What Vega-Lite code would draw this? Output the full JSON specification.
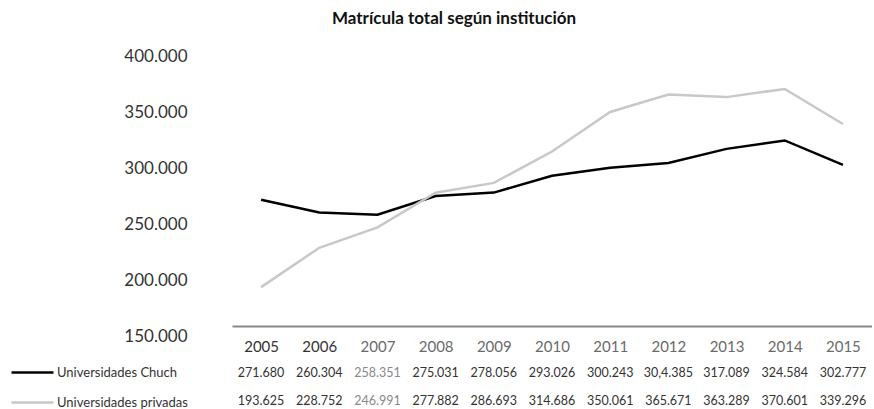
{
  "$schema": "https://vega.github.io/schema/vega-lite/v6.json",
  "padding": {"left": 10, "top": 10, "right": 0, "bottom": 0},
  "config": {
    "view": {"stroke": null},
    "font": "Lato",
    "locale": {"number": {"decimal": ",", "thousands": ".", "grouping": [3], "currency": ["$", ""]}}
  },
  "title": {"text": "Matrícula total según institución", "fontSize": 17, "fontWeight": "bold", "color": "#111", "anchor": "middle", "dx": 13, "offset": 19},
  "datasets": {
    "matricula": [
      {"anio": 2005, "serie": "Universidades Chuch", "matricula": 271680, "texto": "271.680"},
      {"anio": 2006, "serie": "Universidades Chuch", "matricula": 260304, "texto": "260.304"},
      {"anio": 2007, "serie": "Universidades Chuch", "matricula": 258351, "texto": "258.351"},
      {"anio": 2008, "serie": "Universidades Chuch", "matricula": 275031, "texto": "275.031"},
      {"anio": 2009, "serie": "Universidades Chuch", "matricula": 278056, "texto": "278.056"},
      {"anio": 2010, "serie": "Universidades Chuch", "matricula": 293026, "texto": "293.026"},
      {"anio": 2011, "serie": "Universidades Chuch", "matricula": 300243, "texto": "300.243"},
      {"anio": 2012, "serie": "Universidades Chuch", "matricula": 304385, "texto": "30,4.385"},
      {"anio": 2013, "serie": "Universidades Chuch", "matricula": 317089, "texto": "317.089"},
      {"anio": 2014, "serie": "Universidades Chuch", "matricula": 324584, "texto": "324.584"},
      {"anio": 2015, "serie": "Universidades Chuch", "matricula": 302777, "texto": "302.777"},
      {"anio": 2005, "serie": "Universidades privadas", "matricula": 193625, "texto": "193.625"},
      {"anio": 2006, "serie": "Universidades privadas", "matricula": 228752, "texto": "228.752"},
      {"anio": 2007, "serie": "Universidades privadas", "matricula": 246991, "texto": "246.991"},
      {"anio": 2008, "serie": "Universidades privadas", "matricula": 277882, "texto": "277.882"},
      {"anio": 2009, "serie": "Universidades privadas", "matricula": 286693, "texto": "286.693"},
      {"anio": 2010, "serie": "Universidades privadas", "matricula": 314686, "texto": "314.686"},
      {"anio": 2011, "serie": "Universidades privadas", "matricula": 350061, "texto": "350.061"},
      {"anio": 2012, "serie": "Universidades privadas", "matricula": 365671, "texto": "365.671"},
      {"anio": 2013, "serie": "Universidades privadas", "matricula": 363289, "texto": "363.289"},
      {"anio": 2014, "serie": "Universidades privadas", "matricula": 370601, "texto": "370.601"},
      {"anio": 2015, "serie": "Universidades privadas", "matricula": 339296, "texto": "339.296"}
    ]
  },
  "bounds": "flush",
  "spacing": 23,
  "vconcat": [
    {
      "width": 640,
      "height": 280,
      "data": {"name": "matricula"},
      "mark": {"type": "line", "strokeWidth": 2.5},
      "encoding": {
        "x": {
          "field": "anio", "type": "ordinal",
          "scale": {"type": "point", "padding": 0.5},
          "axis": {
            "title": null, "labelAngle": 0, "offset": -10, "ticks": false,
            "domainColor": "#888", "domainWidth": 2, "labelPadding": 13,
            "labelFontSize": 15,
            "labelColor": {"condition": {"test": "datum.value <= 2006", "value": "#333"}, "value": "#6a6a6a"}
          }
        },
        "y": {
          "field": "matricula", "type": "quantitative",
          "scale": {"domain": [150000, 400000]},
          "axis": {
            "title": null, "values": [150000, 200000, 250000, 300000, 350000, 400000],
            "format": ",d", "domain": false, "ticks": false, "grid": false,
            "labelPadding": 45, "labelFontSize": 17, "labelColor": "#333"
          }
        },
        "color": {
          "field": "serie", "type": "nominal",
          "scale": {"domain": ["Universidades Chuch", "Universidades privadas"], "range": ["#000000", "#c8c8c8"]},
          "legend": {
            "title": null, "orient": "none", "legendX": -222, "legendY": 294,
            "direction": "vertical", "symbolType": "stroke", "symbolSize": 1764,
            "symbolStrokeWidth": 2.5, "rowPadding": -15, "labelFontSize": 13,
            "labelColor": "#333", "labelOffset": 2
          }
        }
      }
    },
    {
      "width": 640,
      "height": 56,
      "data": {"name": "matricula"},
      "mark": {"type": "text", "fontSize": 12.5},
      "encoding": {
        "x": {"field": "anio", "type": "ordinal", "scale": {"type": "point", "padding": 0.5}, "axis": null},
        "y": {"field": "serie", "type": "nominal", "scale": {"type": "band", "domain": ["Universidades Chuch", "Universidades privadas"]}, "axis": null},
        "text": {"field": "texto"},
        "color": {"condition": {"test": "datum.anio == 2007", "value": "#888"}, "value": "#333"}
      }
    }
  ]
}
